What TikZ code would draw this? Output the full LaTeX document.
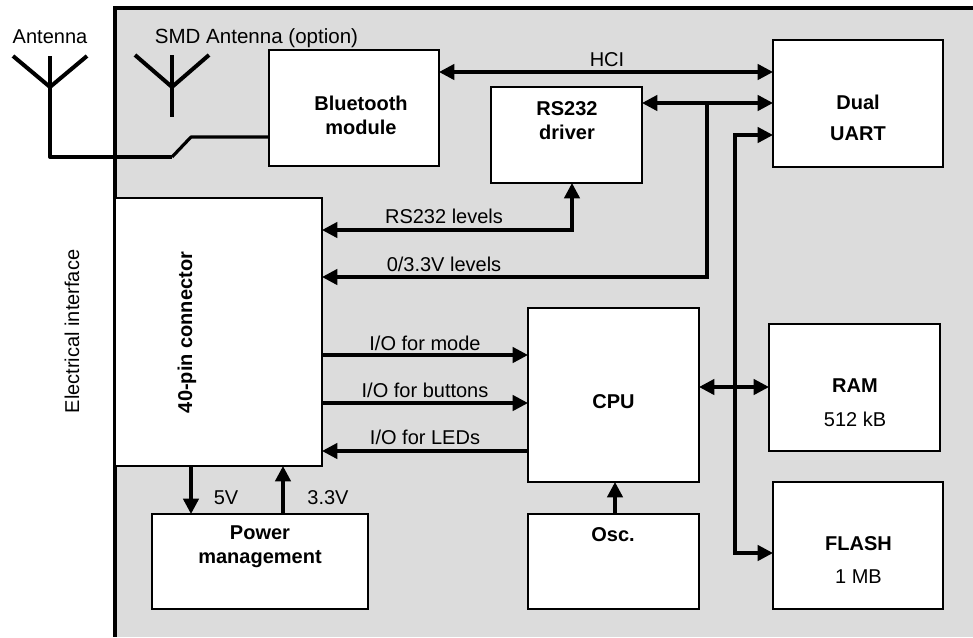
\documentclass[tikz,border=0pt]{standalone}
\usepackage{fontspec}
\setmainfont{Liberation Sans}
\usetikzlibrary{arrows.meta}
\definecolor{panel}{HTML}{DCDCDC}
\tikzset{
  x=0.75pt,y=-0.75pt,
  txt/.style={font=\fontsize{15}{18}\selectfont,align=center,inner sep=0pt},
  btxt/.style={font=\fontsize{15}{18}\selectfont\bfseries,align=center,inner sep=0pt},
  box/.style={draw=black,fill=white,line width=1.1pt,inner sep=0pt,outer sep=0pt},
  bus/.style={line width=2.5pt,line join=miter},
  ar/.style={bus,-{Triangle[length=11.5pt,width=11.5pt]}},
  br/.style={bus,{Triangle[length=11.5pt,width=11.5pt]}-{Triangle[length=11.5pt,width=11.5pt]}},
  aerial/.style={line width=3pt,line join=round},
  feed/.style={line width=2.4pt,line join=round}
}
\newcommand{\bx}[5]{\node[box,minimum width={(#4-#2)*0.75pt},minimum height={(#5-#3)*0.75pt}] (#1) at ({(#2+#4)/2},{(#3+#5)/2}) {};}
\begin{document}
\begin{tikzpicture}
\useasboundingbox (0,0) rectangle (973,637);
\fill[white] (0,0) rectangle (973,637);
\fill[panel] (115,8) rectangle (973,637);
\coordinate (pr) at (973,8);
\coordinate (pc) at (115,8);
\coordinate (pb) at (115,637);
\draw[line width=2.4pt,line join=miter] (pr) -- (pc) -- (pb);

\coordinate (antbase) at (50,87);
\coordinate (antl) at (13,56);
\coordinate (antr) at (87,56);
\coordinate (anttop) at (50,56);
\coordinate (f1) at (50,157);
\coordinate (f2) at (172,157);
\coordinate (f3) at (191,137);
\coordinate (smdbase) at (172,87);
\coordinate (smdl) at (135,55);
\coordinate (smdr) at (209,55);
\coordinate (smdtop) at (172,55);
\coordinate (smdbot) at (172,117);

\bx{bt}{269}{50}{439}{166}
\bx{rs}{491}{87}{642}{183}
\bx{uart}{773}{40}{943}{167}
\bx{conn}{115}{198}{322}{466}
\bx{cpu}{528}{308}{699}{482}
\bx{ram}{769}{324}{940}{451}
\bx{flash}{773}{482}{943}{609}
\bx{pwr}{152}{514}{368}{609}
\bx{osc}{528}{514}{699}{609}

\draw[aerial] (antl) -- (antbase) -- (antr);
\draw[aerial] (anttop) -- (f1) -- (f2);
\draw[feed] (f2) -- (f3) -- (bt.west |- f3);
\draw[aerial] (smdl) -- (smdbase) -- (smdr);
\draw[aerial] (smdtop) -- (smdbot);

% labels
\node[txt] (lant) at (50,37) {Antenna};
\node[txt,font=\fontsize{15.4}{18}\selectfont] (lsmd) at (256.5,38.5) {SMD Antenna (option)};
\node[txt,rotate=90] (lei) at (72,331.5) {Electrical interface};
\node[txt] (lhci) at (607,60) {HCI};
\node[txt] (lrs) at (444,216) {RS232 levels};
\node[txt] (l33l) at (444,264) {0/3.3V levels};
\node[txt] (lmode) at (425,343) {I/O for mode};
\node[txt] (lbtn) at (425,390) {I/O for buttons};
\node[txt] (lled) at (425,437) {I/O for LEDs};
\node[txt] (l5v) at (226,498) {5V};
\node[txt] (l33) at (328,498) {3.3V};

\node[btxt] (tbt) at (361,115) {Bluetooth\\module};
\node[btxt] (trs) at (567,121) {RS232\\driver};
\node[btxt] (tuart1) at (858,102) {Dual};
\node[btxt] (tuart2) at (858,134) {UART};
\node[btxt,rotate=90] (tconn) at (187,332.5) {40-pin connector};
\node[btxt] (tcpu) at (613.5,402) {CPU};
\node[btxt] (tram) at (855,386) {RAM};
\node[txt] (tram2) at (855,419) {512 kB};
\node[btxt] (tfl) at (858.5,544) {FLASH};
\node[txt] (tfl2) at (858.5,577) {1 MB};
\node[btxt] (tpw) at (260,547) {Power\\management};
\node[btxt] (tosc) at (613,535) {Osc.};

% connectors
\coordinate (yhci) at (0,72);
\coordinate (yrs) at (0,103);
\coordinate (ybus) at (0,135);
\coordinate (xrs) at (572,0);
\coordinate (xlv) at (707,0);
\coordinate (xbus) at (735,0);
\coordinate (yrl) at (0,230);
\coordinate (y33) at (0,277);
\coordinate (ymode) at (0,355);
\coordinate (ybtn) at (0,403);
\coordinate (yled) at (0,451);
\coordinate (yram) at (0,387);
\coordinate (yfl) at (0,553);
\coordinate (x5) at (191,0);
\coordinate (x33) at (283,0);
\coordinate (xosc) at (615,0);

\draw[br] (bt.east |- yhci) -- (uart.west |- yhci);
\draw[br] (rs.east |- yrs) -- (uart.west |- yrs);
\draw[ar] (xlv |- yrs) -- (xlv |- y33) -- (conn.east |- y33);
\draw[br] (conn.east |- yrl) -- (xrs |- yrl) -- (xrs |- rs.south);
\draw[ar] (conn.east |- ymode) -- (cpu.west |- ymode);
\draw[ar] (conn.east |- ybtn) -- (cpu.west |- ybtn);
\draw[ar] (cpu.west |- yled) -- (conn.east |- yled);
\draw[ar] (x5 |- conn.south) -- (x5 |- pwr.north);
\draw[ar] (x33 |- pwr.north) -- (x33 |- conn.south);
\draw[ar] (xosc |- osc.north) -- (xosc |- cpu.south);
\draw[br] (uart.west |- ybus) -- (xbus |- ybus) -- (xbus |- yfl) -- (flash.west |- yfl);
\draw[br] (cpu.east |- yram) -- (ram.west |- yram);
\end{tikzpicture}
\end{document}
